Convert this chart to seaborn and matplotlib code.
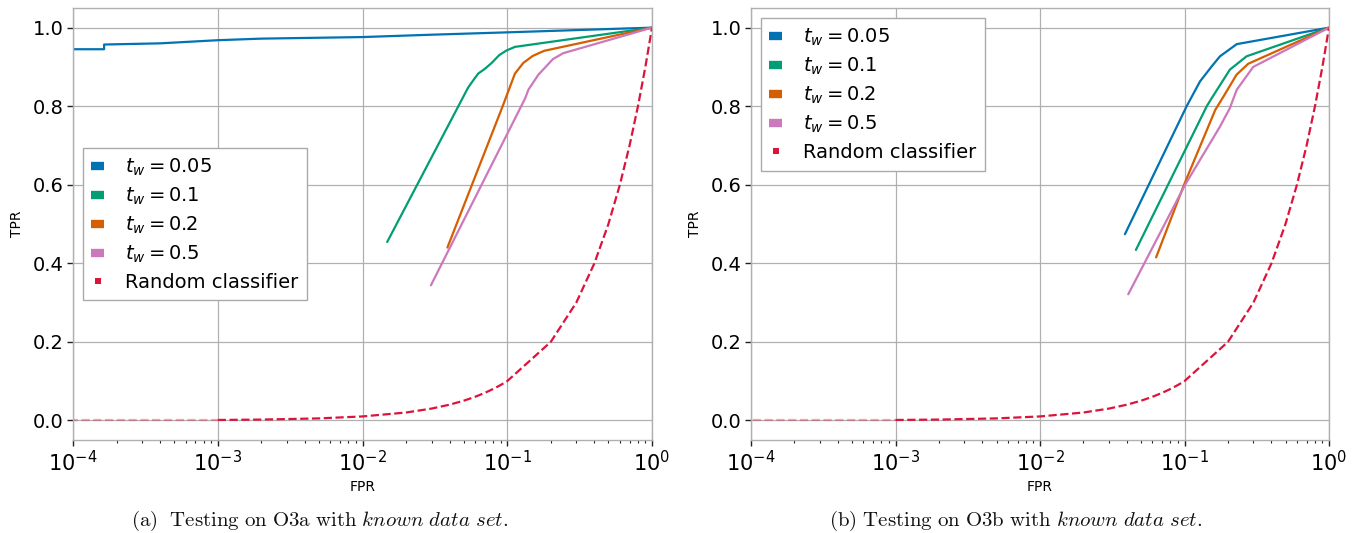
import numpy as np
import pandas as pd
import matplotlib
matplotlib.use("Agg")
import matplotlib.pyplot as plt
from matplotlib.lines import Line2D
import seaborn as sns

# ---------------- data ----------------
labels = [r"$t_w = 0.05$", r"$t_w = 0.1$", r"$t_w = 0.2$", r"$t_w = 0.5$"]

# Panel (a): O3a
a_fpr_005 = [1e-4, 1.64e-4, 1.64e-4, 4e-4, 1e-3, 2e-3, 1e-2, 3e-2, 1e-1, 1.0]
a_tpr_005 = [0.945, 0.945, 0.957, 0.960, 0.968, 0.972, 0.976, 0.982, 0.988, 1.0]
a_fpr_01 = [0.0148, 0.0536, 0.058, 0.063, 0.070, 0.078, 0.088, 0.099, 0.113, 1.0]
a_tpr_01 = [0.454, 0.847, 0.865, 0.883, 0.895, 0.910, 0.930, 0.942, 0.951, 1.0]
a_fpr_02 = [0.0386, 0.093, 0.113, 0.129, 0.150, 0.180, 1.0]
a_tpr_02 = [0.440, 0.800, 0.883, 0.910, 0.928, 0.941, 1.0]
a_fpr_05 = [0.0297, 0.133, 0.140, 0.164, 0.207, 0.244, 1.0]
a_tpr_05 = [0.344, 0.820, 0.842, 0.880, 0.920, 0.935, 1.0]

# Panel (b): O3b
b_fpr_005 = [0.0387, 0.1035, 0.128, 0.154, 0.176, 0.230, 1.0]
b_tpr_005 = [0.474, 0.800, 0.863, 0.901, 0.927, 0.958, 1.0]
b_fpr_01 = [0.0461, 0.1426, 0.154, 0.206, 0.269, 1.0]
b_tpr_01 = [0.434, 0.800, 0.820, 0.893, 0.927, 1.0]
b_fpr_02 = [0.0636, 0.0993, 0.163, 0.190, 0.229, 0.276, 1.0]
b_tpr_02 = [0.415, 0.600, 0.790, 0.830, 0.880, 0.908, 1.0]
b_fpr_05 = [0.0408, 0.101, 0.176, 0.206, 0.230, 0.299, 1.0]
b_tpr_05 = [0.321, 0.600, 0.748, 0.795, 0.842, 0.900, 1.0]

# Random classifier
rand_fpr = [0, 0.001, 0.002, 0.005, 0.01, 0.02, 0.03, 0.04, 0.05, 0.06, 0.07,
            0.08, 0.09, 0.1, 0.2, 0.3, 0.4, 0.5, 0.6, 0.7, 0.8, 0.9, 1.0]
rand_tpr = [0, 0.001, 0.002, 0.005, 0.01, 0.02, 0.03, 0.04, 0.05, 0.06, 0.07,
            0.08, 0.09, 0.1, 0.2, 0.3, 0.4, 0.5, 0.6, 0.7, 0.8, 0.9, 1.0]

captions = [r"(a)\ \ ", r"(b)\ "]
caption_main = [r"Testing\ on\ O3a\ with\ ", r"Testing\ on\ O3b\ with\ "]

xticks = [1e-4, 1e-3, 1e-2, 1e-1, 1e0]
yticks = [0.0, 0.2, 0.4, 0.6, 0.8, 1.0]

# ---------------- style ----------------
sns.set_theme(style="whitegrid")
plt.rcParams.update({
    "font.family": ["DejaVu Sans"],
    "text.color": "black",
    "axes.labelcolor": "black",
    "axes.edgecolor": "#b0b0b0",
    "axes.linewidth": 1.0,
    "grid.color": "#b0b0b0",
    "grid.linewidth": 0.9,
    "xtick.bottom": True,
    "ytick.left": True,
    "xtick.color": "#222222",
    "ytick.color": "#222222",
    "xtick.labelcolor": "black",
    "ytick.labelcolor": "black",
    "axes.facecolor": "white",
})

pal = sns.color_palette("colorblind")
colors = [pal[0], pal[2], pal[3], pal[4]]
rand_color = "#dc143c"

fig = plt.figure(figsize=(13.6, 5.33), dpi=100)
ax_a = fig.add_axes([73 / 1360, 1 - 440 / 533, 579 / 1360, 432 / 533])
ax_b = fig.add_axes([751 / 1360, 1 - 440 / 533, 578 / 1360, 432 / 533])

panels = [
    (ax_a, [(a_fpr_005, a_tpr_005), (a_fpr_01, a_tpr_01), (a_fpr_02, a_tpr_02), (a_fpr_05, a_tpr_05)]),
    (ax_b, [(b_fpr_005, b_tpr_005), (b_fpr_01, b_tpr_01), (b_fpr_02, b_tpr_02), (b_fpr_05, b_tpr_05)]),
]

for ax, curves in panels:
    for (fx, ty), c in zip(curves, colors):
        sns.lineplot(x=fx, y=ty, ax=ax, color=c, lw=1.6, sort=False, estimator=None)
    # random classifier (faint first segment, as in the reference)
    ax.plot(rand_fpr[:2], rand_tpr[:2], color=rand_color, lw=1.6, ls="--", alpha=0.35)
    ax.plot(rand_fpr[1:], rand_tpr[1:], color=rand_color, lw=1.6, ls="--")
    ax.set_xscale("log")
    ax.set_xlim(1e-4, 1.0)
    ax.set_ylim(-0.05, 1.05)
    ax.set_xticks(xticks)
    ax.set_yticks(yticks)
    ax.xaxis.set_minor_locator(matplotlib.ticker.LogLocator(base=10, subs=np.arange(2, 10), numticks=20))
    ax.xaxis.set_minor_formatter(matplotlib.ticker.NullFormatter())
    ax.tick_params(axis="x", which="major", labelsize=15, length=4, width=1, pad=3)
    ax.tick_params(axis="x", which="minor", length=2.5, width=0.8)
    ax.tick_params(axis="y", which="major", labelsize=14, length=4, width=1, pad=3)
    ax.grid(True, which="major", color="#b0b0b0", lw=0.9)
    ax.grid(False, which="minor")
    ax.set_xlabel("FPR", fontsize=10, labelpad=4)
    ax.set_ylabel("TPR", fontsize=10, labelpad=6)
    for s in ax.spines.values():
        s.set_color("#b0b0b0")
        s.set_linewidth(1.0)

# legends
handles = [Line2D([], [], color=c, lw=6, solid_capstyle="butt") for c in colors]
handles.append(Line2D([], [], color=rand_color, ls="none", marker="s", markersize=4.6,
                      markeredgewidth=0))
leg_labels = labels + ["Random classifier"]
leg_kw = dict(fontsize=14, handlelength=0.62, handletextpad=1.1, labelspacing=0.4,
              borderpad=0.45, frameon=True, fancybox=False, edgecolor="#aaaaaa",
              framealpha=1.0, borderaxespad=0.5)
la = ax_a.legend(handles, leg_labels, loc="center left", bbox_to_anchor=(0.0, 0.5), **leg_kw)
lb = ax_b.legend(handles, leg_labels, loc="upper left", **leg_kw)
for leg in (la, lb):
    leg.get_frame().set_linewidth(1.0)
    for t in leg.get_texts():
        t.set_color("black")

# captions
for ax, tag, main, xc in zip([ax_a, ax_b], captions, caption_main, [320 / 1360, 1016 / 1360]):
    txt = r"$\mathrm{" + tag + main + r"}\mathit{known\ data\ set}\mathrm{.}$"
    fig.text(xc, 1 - 521 / 533, txt, ha="center", va="center", fontsize=15,
             math_fontfamily="cm", color="#111111")

fig.savefig("out.png", dpi=100)
